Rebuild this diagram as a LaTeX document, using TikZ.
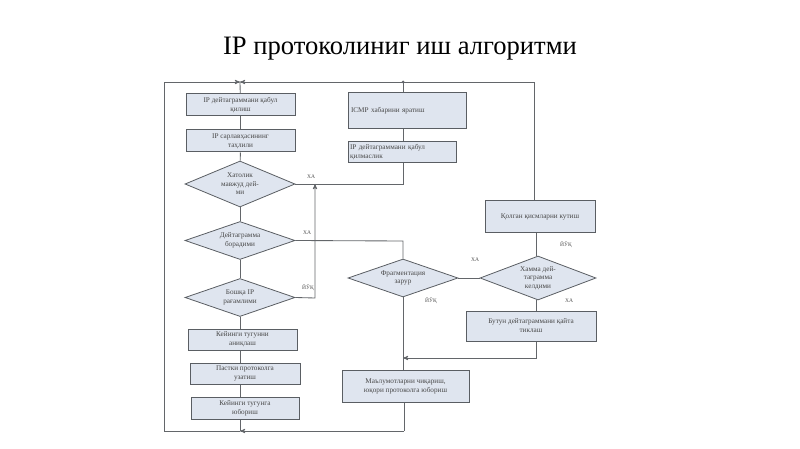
\documentclass[tikz,border=0pt]{standalone}
\usepackage{fontspec}
\setmainfont{Liberation Serif}
\usetikzlibrary{arrows,shapes.geometric}
\definecolor{boxfill}{HTML}{DFE5EF}
\definecolor{boxline}{HTML}{5A5E63}
\definecolor{flowline}{HTML}{63666A}
\tikzset{
  stepbox/.style={draw=boxline,line width=1pt,fill=boxfill,inner sep=1pt,align=center,font=\fontsize{7.2}{9}\selectfont,text=black!72},
  testbox/.style={diamond,aspect=2.6,draw=boxline,line width=.8pt,fill=boxfill,inner sep=0pt,align=center,font=\fontsize{7.2}{8.5}\selectfont,text=black!72},
  flow/.style={draw=flowline,line width=.85pt},
  answer/.style={font=\fontsize{5.5}{6}\selectfont,text=black!70,inner sep=0pt}
}
\begin{document}
\begin{tikzpicture}[x=1pt,y=-1pt,>=stealth']
  \useasboundingbox (0,0) rectangle (800,449);
  \node (title) at (400,49) {\fontsize{26.6}{30}\selectfont IP протоколиниг иш алгоритми};

  % left column
  \node[stepbox,minimum width=109pt,minimum height=22pt] (recv) at (240.5,105) {IP дейтаграммани қабул\\қилиш};
  \node[stepbox,minimum width=109pt,minimum height=22pt] (head) at (240.5,141) {IP сарлавҳасининг\\таҳлили};
  \node[testbox,minimum width=110pt,minimum height=46pt] (err) at (240,184) {Хатолик\\мавжуд дей-\\ми};
  \node[testbox,minimum width=110pt,minimum height=38pt] (data) at (240,240.5) {Дейтаграмма\\борадими};
  \node[testbox,minimum width=110pt,minimum height=38pt] (ipdest) at (240,297.5) {Бошқа IP\\рағамлими};
  \node[stepbox,minimum width=109pt,minimum height=21pt] (proto) at (242.5,339.5) {Кейинги тугунни\\аниқлаш};
  \node[stepbox,minimum width=110pt,minimum height=21pt] (port) at (245,373.5) {Пастки протоколга\\узатиш};
  \node[stepbox,minimum width=108pt,minimum height=22pt] (next) at (245,408) {Кейинги тугунга\\юбориш};

  % right column
  \node[stepbox,minimum width=118pt,minimum height=36pt,text width=112pt,align=left] (icmp) at (407,111) {ICMP хабарини яратиш};
  \node[stepbox,minimum width=108pt,minimum height=21pt,text width=104pt,align=left] (drop) at (402,152.5) {IP дейтаграммани қабул\\қилмаслик};
  \node[testbox,minimum width=110pt,minimum height=38pt] (frag) at (403,278) {Фрагментация\\зарур};
  \node[testbox,minimum width=116pt,minimum height=44pt] (more) at (538,278) {Хамма дей-\\таграмма\\келдими};
  \node[stepbox,minimum width=110pt,minimum height=31pt] (wait) at (540,216.5) {Қолган қисмларни кутиш};
  \node[stepbox,minimum width=130pt,minimum height=30pt] (join) at (531,326) {Бутун дейтаграммани қайта\\тиклаш};
  \node[stepbox,minimum width=127pt,minimum height=32pt] (send) at (405.5,386) {Маълумотларни чиқариш,\\юқори протоколга юбориш};

  % junctions
  \coordinate (topin) at (240,82);
  \coordinate (topmid) at (403,82);
  \coordinate (topright) at (534,82);
  \coordinate (topleft) at (164,82);
  \coordinate (botin) at (240,431);
  \coordinate (botleft) at (164,431);
  \coordinate (botright) at (404,431);
  \coordinate (upturn) at (315,298);
  \coordinate (upend) at (315,184);
  \coordinate (datacorner) at (403,241);
  \coordinate (joinend) at (536,358);
  \coordinate (joinin) at (403,358);
  \coordinate (moreaxis) at (536,278);

  % connectors
  \draw[flow] (topin) -- (recv);
  \draw[flow] (recv) -- (head);
  \draw[flow] (head) -- (err);
  \draw[flow] (err) -- (data);
  \draw[flow] (data) -- (ipdest);
  \draw[flow] (ipdest.south) -- (ipdest.south |- proto.north);
  \draw[flow] (proto.south -| topin) -- (port.north -| topin);
  \draw[flow] (port.south -| topin) -- (next.north -| topin);
  \draw[flow] (next.south -| topin) -- (botin);
  \draw[flow] (botin) -- (botleft);
  \draw[flow,->] (botleft) -- (topleft) -- (topin);
  \draw[flow,->] (botright) -- (botin);
  \draw[flow] (send.south -| botright) -- (botright);
  \draw[flow,->] (topright) -- (topin);
  \draw[flow] (wait.north -| topright) -- (topright);
  \draw[flow] (icmp.north -| topmid) -- (topmid);
  \draw[flow] (icmp.south -| topmid) -- (drop.north -| topmid);
  \draw[flow] (drop.south -| topmid) -- (err.east -| topmid) -- (err.east);
  \draw[flow,->] (ipdest.east) -- (upturn) -- (upend);
  \draw[flow] (data.east) -- (datacorner) -- (frag.north);
  \draw[flow] (more.west) -- (frag.east);
  \draw[flow] (wait.south -| moreaxis) -- (more.north -| moreaxis);
  \draw[flow] (more.south -| moreaxis) -- (join.north -| moreaxis);
  \draw[flow] (frag.south) -- (send.north -| frag.south);
  \draw[flow,->] (join.south -| joinend) -- (joinend) -- (joinin);
  \fill[flowline] (topmid) circle (1.5pt);

  % answers
  \node[answer] (a1) at (311,177) {ХА};
  \node[answer] (a2) at (307,233) {ХА};
  \node[answer] (a3) at (308,288) {ЙЎҚ};
  \node[answer] (a4) at (475,260) {ХА};
  \node[answer] (a5) at (566,245) {ЙЎҚ};
  \node[answer] (a6) at (569,301) {ХА};
  \node[answer] (a7) at (431,301) {ЙЎҚ};
\end{tikzpicture}
\end{document}
